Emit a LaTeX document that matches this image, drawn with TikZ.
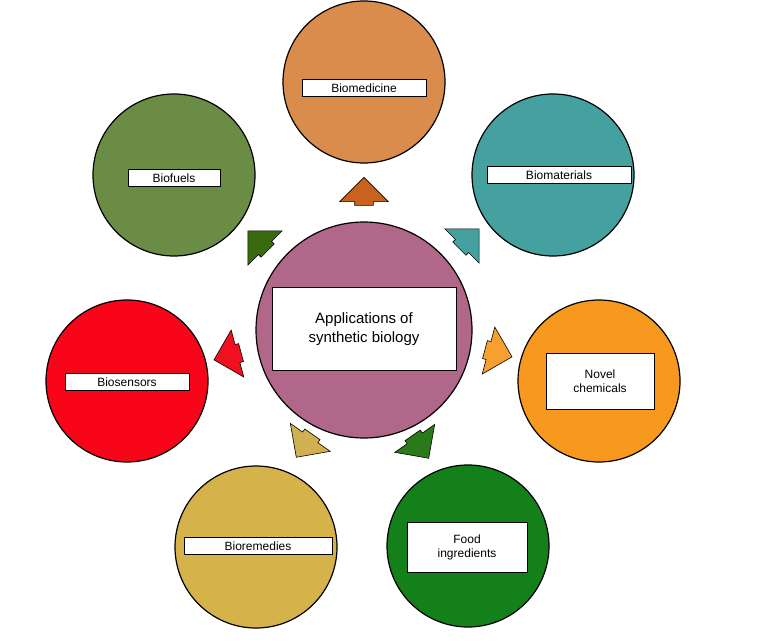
\documentclass[tikz,border=0pt]{standalone}
\usepackage{fontspec}
\setmainfont{Liberation Sans}
\usetikzlibrary{shapes.arrows}
\definecolor{cCenter}{HTML}{B0678A}
\definecolor{cMed}{HTML}{D98C4B}\definecolor{aMed}{HTML}{C8621C}
\definecolor{cMat}{HTML}{45A0A0}\definecolor{aMat}{HTML}{45A0A0}
\definecolor{cNov}{HTML}{F7981F}\definecolor{aNov}{HTML}{F7A030}
\definecolor{cFood}{HTML}{13801A}\definecolor{aFood}{HTML}{2A7A1A}
\definecolor{cRem}{HTML}{D6B24A}\definecolor{aRem}{HTML}{D0B050}
\definecolor{cSen}{HTML}{F8051A}\definecolor{aSen}{HTML}{F01020}
\definecolor{cFuel}{HTML}{6A8C45}\definecolor{aFuel}{HTML}{3A6A10}
\tikzset{
 big/.style={circle,draw=black,line width=1.2pt,minimum size=162pt,inner sep=0pt},
 lab/.style={draw=black,fill=white,line width=0.6pt,font=\fontsize{12}{14}\selectfont,align=center,inner xsep=8pt,inner ysep=4pt},
 arr/.style={single arrow,draw=black,line width=0.6pt,minimum height=28pt,inner xsep=1pt,inner ysep=9pt,single arrow head extend=15pt,single arrow head indent=0pt}
}
\begin{document}
\begin{tikzpicture}[x=1pt,y=1pt]
\useasboundingbox (0,0) rectangle (765,-644);
\node[big,minimum size=216pt,fill=cCenter] (c) at (364,-330) {};
\node[draw=black,fill=white,line width=0.6pt,minimum width=184pt,minimum height=83pt,align=center,font=\fontsize{15}{19}\selectfont] (cl) at (364,-329) {Applications of\\synthetic biology};
\node[big,fill=cMed] (med) at (364,-82) {};
\node[lab,minimum width=124pt] at (364,-88) {Biomedicine};
\node[big,fill=cMat] (mat) at (553,-175) {};
\node[lab,minimum width=144pt] at (559,-175) {Biomaterials};
\node[big,fill=cNov] (nov) at (599,-381) {};
\node[lab,minimum width=108pt,minimum height=56pt] at (600,-381) {Novel\\chemicals};
\node[big,fill=cFood] (food) at (468,-546) {};
\node[lab,minimum width=120pt,minimum height=50pt] at (467,-547) {Food\\ingredients};
\node[big,fill=cRem] (rem) at (256,-547) {};
\node[lab,minimum width=148pt] at (258,-546) {Bioremedies};
\node[big,fill=cSen] (sen) at (127,-381) {};
\node[lab,minimum width=124pt] at (127,-382) {Biosensors};
\node[big,fill=cFuel] (fuel) at (174,-175) {};
\node[lab,minimum width=92pt] at (174,-178) {Biofuels};
\node[arr,fill=aMed,rotate=90] (a1) at (364,-196) {};
\node[arr,fill=aMat,rotate=45] (a2) at (466,-242) {};
\node[arr,fill=aNov,rotate=-15] (a3) at (494,-352) {};
\node[arr,fill=aFood,rotate=-55] (a4) at (418,-443) {};
\node[arr,fill=aRem,rotate=-125] (a5) at (307,-442) {};
\node[arr,fill=aSen,rotate=195] (a6) at (232,-355) {};
\node[arr,fill=aFuel,rotate=135] (a7) at (261,-244) {};
\end{tikzpicture}
\end{document}
